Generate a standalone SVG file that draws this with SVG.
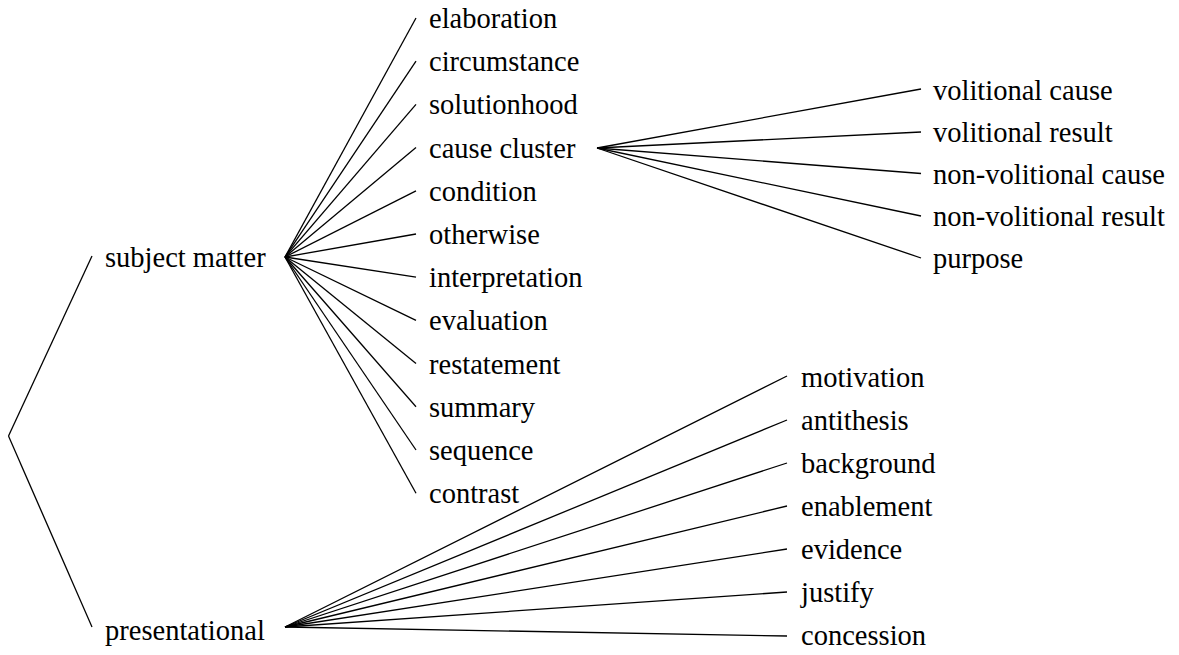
<svg xmlns="http://www.w3.org/2000/svg" width="1179" height="655" viewBox="0 0 1179 655">
<style>
text{font-family:"Liberation Serif","Times New Roman",serif;font-size:28.5px;fill:#000}
line{stroke:#000;stroke-width:1.3;fill:none}
</style>
<rect width="1179" height="655" fill="#fff"/>
<g id="connectors">
<line x1="8.5" y1="436" x2="92" y2="256"/>
<line x1="8.5" y1="436" x2="92" y2="627"/>
<line x1="285" y1="257" x2="416" y2="18"/>
<line x1="285" y1="257" x2="416" y2="61.2"/>
<line x1="285" y1="257" x2="416" y2="104.4"/>
<line x1="285" y1="257" x2="416" y2="147.6"/>
<line x1="285" y1="257" x2="416" y2="190.8"/>
<line x1="285" y1="257" x2="416" y2="234"/>
<line x1="285" y1="257" x2="416" y2="277.2"/>
<line x1="285" y1="257" x2="416" y2="320.4"/>
<line x1="285" y1="257" x2="416" y2="363.6"/>
<line x1="285" y1="257" x2="416" y2="406.8"/>
<line x1="285" y1="257" x2="416" y2="450"/>
<line x1="285" y1="257" x2="416" y2="493.2"/>
<line x1="597" y1="148" x2="921" y2="89"/>
<line x1="597" y1="148" x2="921" y2="132"/>
<line x1="597" y1="148" x2="921" y2="173.5"/>
<line x1="597" y1="148" x2="921" y2="216"/>
<line x1="597" y1="148" x2="921" y2="258"/>
<line x1="285" y1="627" x2="787" y2="376"/>
<line x1="285" y1="627" x2="787" y2="420"/>
<line x1="285" y1="627" x2="787" y2="463"/>
<line x1="285" y1="627" x2="787" y2="506"/>
<line x1="285" y1="627" x2="787" y2="549"/>
<line x1="285" y1="627" x2="787" y2="592"/>
<line x1="285" y1="627" x2="787" y2="636"/>
</g>
<g id="subject-matter"><text x="105" y="267">subject matter</text></g>
<g id="presentational"><text x="105" y="640">presentational</text></g>
<g id="elaboration"><text x="429" y="28">elaboration</text></g>
<g id="circumstance"><text x="429" y="71.2">circumstance</text></g>
<g id="solutionhood"><text x="429" y="114.4">solutionhood</text></g>
<g id="cause-cluster"><text x="429" y="157.6">cause cluster</text></g>
<g id="condition"><text x="429" y="200.8">condition</text></g>
<g id="otherwise"><text x="429" y="244">otherwise</text></g>
<g id="interpretation"><text x="429" y="287.2">interpretation</text></g>
<g id="evaluation"><text x="429" y="330.4">evaluation</text></g>
<g id="restatement"><text x="429" y="373.6">restatement</text></g>
<g id="summary"><text x="429" y="416.8">summary</text></g>
<g id="sequence"><text x="429" y="460">sequence</text></g>
<g id="contrast"><text x="429" y="503.2">contrast</text></g>
<g id="volitional-cause"><text x="933" y="100">volitional cause</text></g>
<g id="volitional-result"><text x="933" y="142">volitional result</text></g>
<g id="non-volitional-cause"><text x="933" y="183.5">non-volitional cause</text></g>
<g id="non-volitional-result"><text x="933" y="226">non-volitional result</text></g>
<g id="purpose"><text x="933" y="268">purpose</text></g>
<g id="motivation"><text x="801" y="387">motivation</text></g>
<g id="antithesis"><text x="801" y="430">antithesis</text></g>
<g id="background"><text x="801" y="473">background</text></g>
<g id="enablement"><text x="801" y="516">enablement</text></g>
<g id="evidence"><text x="801" y="559">evidence</text></g>
<g id="justify"><text x="801" y="602">justify</text></g>
<g id="concession"><text x="801" y="645">concession</text></g>
</svg>
